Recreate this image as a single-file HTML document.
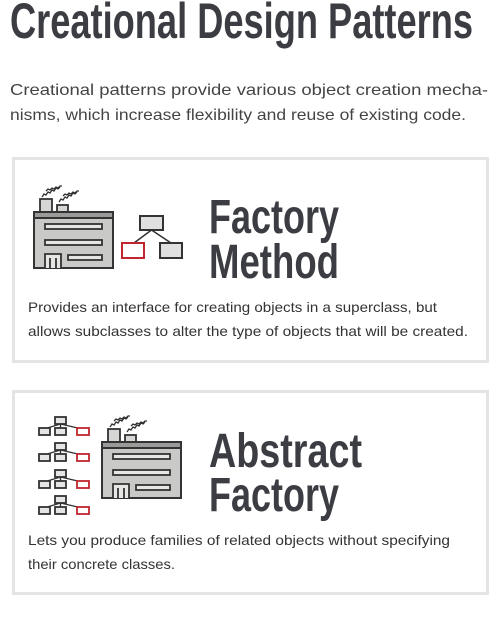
<!DOCTYPE html>
<html><head><meta charset="utf-8"><style>
html,body{margin:0;padding:0;background:#fff;width:497px;height:631px;overflow:hidden}
svg{display:block}
</style></head><body>
<svg width="497" height="631" viewBox="0 0 497 631" xmlns="http://www.w3.org/2000/svg" font-family="Liberation Sans, sans-serif">
<defs>
<g id="fac">
 <path d="M8 -1 l2 -3 l2 1 l2 -3 l2 1 l2 -3 l2 1 l2 -3 l2 1 l2 -2" fill="none" stroke="#333" stroke-width="1.3"/>
 <path d="M12 -7 l2 -2 l2 1 l2 -2 l2 1 l2 -2 l2 1 l2 -2 l2 0" fill="none" stroke="#333" stroke-width="1.3"/>
 <path d="M25 4 l2 -3 l2 1 l2 -3 l2 1 l2 -3 l2 1 l2 -3 l2 1 l2 -2" fill="none" stroke="#333" stroke-width="1.3"/>
 <path d="M29 -2 l2 -2 l2 1 l2 -2 l2 1 l2 -2 l2 1 l2 -2 l2 0" fill="none" stroke="#333" stroke-width="1.3"/>
 <rect x="6" y="1" width="12" height="13" fill="#d6d7d4" stroke="#333" stroke-width="1.8"/>
 <rect x="23" y="7" width="11" height="7" fill="#d6d7d4" stroke="#333" stroke-width="1.8"/>
 <rect x="0" y="14" width="79" height="56" fill="#c9cac7" stroke="#333" stroke-width="2"/>
 <rect x="0" y="14" width="79" height="6" fill="#9a9b98" stroke="#333" stroke-width="2"/>
 <rect x="11" y="26" width="57" height="5" fill="#e6e6e4" stroke="#333" stroke-width="1.8"/>
 <rect x="11" y="42" width="57" height="5" fill="#e6e6e4" stroke="#333" stroke-width="1.8"/>
 <rect x="34" y="57" width="34" height="5" fill="#e6e6e4" stroke="#333" stroke-width="1.8"/>
 <path d="M11 70 V56 H27 V70 M16 70 V60 M22 70 V60" fill="#e6e6e4" stroke="#333" stroke-width="1.8"/>
</g>
<g id="tr">
 <rect x="17" y="0" width="11" height="7" fill="#e5e5e5" stroke="#333" stroke-width="1.8"/>
 <path d="M22.5 7 V11 M22.5 7 L6 12 M22.5 7 L44 12" stroke="#333" stroke-width="1.4" fill="none"/>
 <rect x="1" y="11" width="11" height="7" fill="#e5e5e5" stroke="#333" stroke-width="1.8"/>
 <rect x="17" y="11" width="11" height="7" fill="#e5e5e5" stroke="#333" stroke-width="1.8"/>
 <rect x="39" y="11" width="12" height="7" fill="#fff" stroke="#c0262d" stroke-width="1.8"/>
</g>
</defs>
<text x="10" y="38" font-size="50" font-weight="bold" fill="#3b3d42" textLength="463" lengthAdjust="spacingAndGlyphs">Creational Design Patterns</text>
<g font-size="16" fill="#444">
<text x="10" y="95" textLength="478" lengthAdjust="spacingAndGlyphs">Creational patterns provide various object creation mecha-</text>
<text x="10" y="120" textLength="456" lengthAdjust="spacingAndGlyphs">nisms, which increase flexibility and reuse of existing code.</text>
</g>
<rect x="13.5" y="158.5" width="474" height="203" fill="none" stroke="#e4e4e4" stroke-width="3"/>
<rect x="13.5" y="391.5" width="474" height="202" fill="none" stroke="#e4e4e4" stroke-width="3"/>
<use href="#fac" x="34" y="198"/>
<rect x="140" y="216" width="23" height="14" fill="#e0e0e0" stroke="#333" stroke-width="2"/>
<path d="M151.5 230 L134 243 M151.5 230 L171 243" stroke="#333" stroke-width="1.5" fill="none"/>
<rect x="122" y="243" width="22" height="15" fill="#fff" stroke="#c0262d" stroke-width="2"/>
<rect x="160" y="243" width="22" height="15" fill="#e0e0e0" stroke="#333" stroke-width="2"/>
<g font-size="48" font-weight="bold" fill="#3b3d42">
<text x="209" y="233" textLength="130" lengthAdjust="spacingAndGlyphs">Factory</text>
<text x="209" y="278" textLength="130" lengthAdjust="spacingAndGlyphs">Method</text>
<text x="209" y="467" textLength="153" lengthAdjust="spacingAndGlyphs">Abstract</text>
<text x="209" y="511" textLength="130" lengthAdjust="spacingAndGlyphs">Factory</text>
</g>
<g font-size="14" fill="#333">
<text x="28" y="312" textLength="409" lengthAdjust="spacingAndGlyphs">Provides an interface for creating objects in a superclass, but</text>
<text x="28" y="336" textLength="440" lengthAdjust="spacingAndGlyphs">allows subclasses to alter the type of objects that will be created.</text>
<text x="28" y="545" textLength="422" lengthAdjust="spacingAndGlyphs">Lets you produce families of related objects without specifying</text>
<text x="28" y="569" textLength="147" lengthAdjust="spacingAndGlyphs">their concrete classes.</text>
</g>
<use href="#tr" x="38" y="417"/>
<use href="#tr" x="38" y="443"/>
<use href="#tr" x="38" y="470"/>
<use href="#tr" x="38" y="496"/>
<use href="#fac" x="102" y="428"/>
</svg>
</body></html>
